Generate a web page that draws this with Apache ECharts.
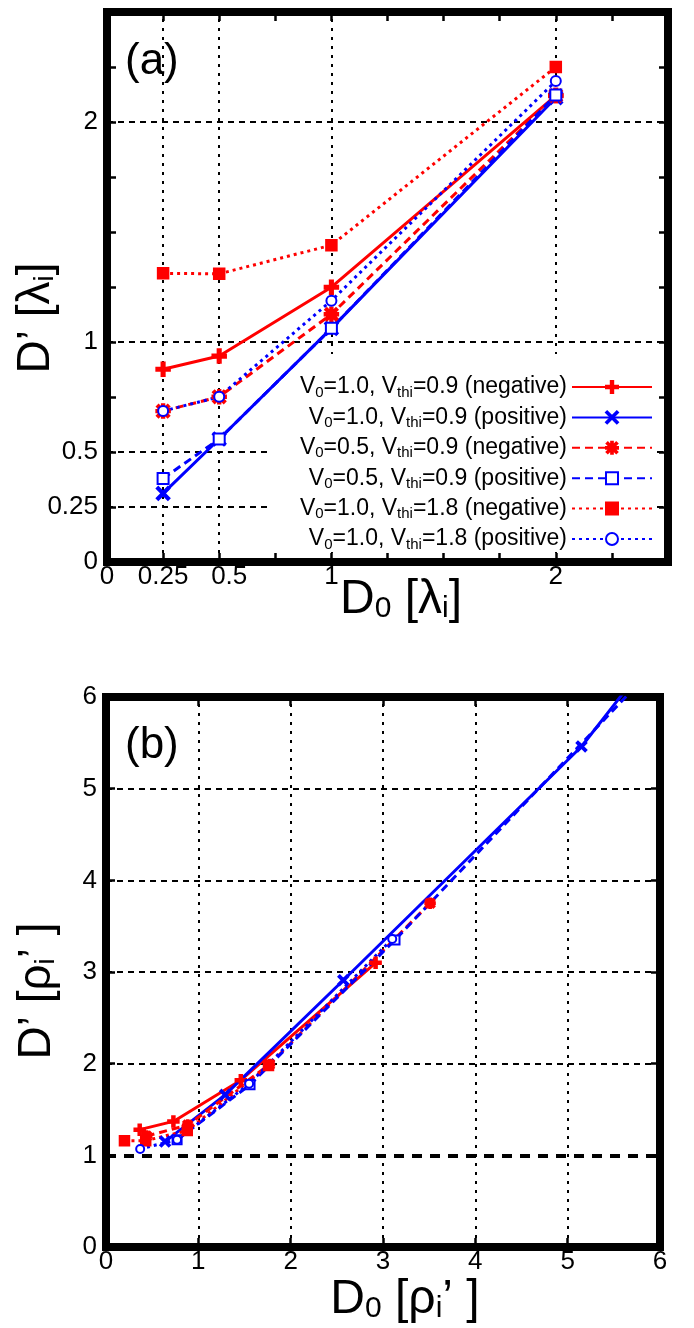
<!DOCTYPE html>
<html><head><meta charset="utf-8">
<script src="https://cdn.jsdelivr.net/npm/echarts@6/dist/echarts.min.js"></script>
<style>html,body{margin:0;padding:0;background:#fff}#c{width:694px;height:1328px}</style>
</head><body><div id="c"></div>
<script>
const FONT = '"Liberation Sans", Arial, sans-serif';

// ---------- Panel (a) data ----------
const aXTickLabels = [0, 0.25, 0.5, 1, 2];
const aYTickLabels = [0, 0.25, 0.5, 1, 2];
const aGridX = [0.25, 0.5, 1, 2];
const aGridY = [0.25, 0.5, 1, 2];
const aD0 = [0.25, 0.5, 1, 2];
const aNeg09 = [0.876, 0.936, 1.249, 2.12];
const aPos09 = [0.312, 0.559, 1.062, 2.11];
const aNeg05 = [0.686, 0.751, 1.126, 2.12];
const aPos05 = [0.38, 0.559, 1.062, 2.123];
const aNeg18 = [1.312, 1.31, 1.44, 2.25];
const aPos18 = [0.686, 0.751, 1.188, 2.186];

// ---------- Panel (b) data ----------
const bTickLabels = [0, 1, 2, 3, 4, 5, 6];
const bGridX = [1, 2, 3, 4, 5];
const bGridY = [2, 3, 4, 5];
const bRefLine = 1;
const bNeg09 = [[0.365, 1.28], [0.73, 1.37], [1.46, 1.82], [2.92, 3.10]];
const bPos09 = [[0.64, 1.15], [1.29, 1.66], [2.57, 2.91], [5.15, 5.46], [10.3, 12.1]];
const bNeg05 = [[0.44, 1.21], [0.885, 1.33], [1.77, 1.99], [3.51, 3.75]];
const bPos05 = [[0.77, 1.17], [1.56, 1.77], [3.13, 3.35], [6.26, 6.67]];
const bNeg18 = [[0.20, 1.16], [0.43, 1.16], [0.88, 1.27], [1.76, 1.98]];
const bPos18 = [[0.37, 1.07], [0.77, 1.17], [1.55, 1.78], [3.10, 3.36]];

const seriesNames = [
  'V0=1.0, Vthi=0.9 (negative)',
  'V0=1.0, Vthi=0.9 (positive)',
  'V0=0.5, Vthi=0.9 (negative)',
  'V0=0.5, Vthi=0.9 (positive)',
  'V0=1.0, Vthi=1.8 (negative)',
  'V0=1.0, Vthi=1.8 (positive)'
];
const aValues = [aNeg09, aPos09, aNeg05, aPos05, aNeg18, aPos18];
const bValues = [bNeg09, bPos09, bNeg05, bPos05, bNeg18, bPos18];

// ---------- styles ----------
const PLUS = 'path://M4,0 H6 V4 H10 V6 H6 V10 H4 V6 H0 V4 H4 Z';
const XMARK = 'path://M1,0 L5,4 L9,0 L10,1 L6,5 L10,9 L9,10 L5,6 L1,10 L0,9 L4,5 L0,1 Z';
const STAR = 'path://M4.3,0 H5.7 V10 H4.3 Z M0,4.3 H10 V5.7 H0 Z M0.5,1.5 L1.5,0.5 L9.5,8.5 L8.5,9.5 Z M8.5,0.5 L9.5,1.5 L1.5,9.5 L0.5,8.5 Z';
const RED = '#ff0000', BLUE = '#0000ff';
const DASH = [8, 5], DOT = [3, 4];
const styles = [
  {color: RED, type: 'solid', symbol: PLUS, size: 13, bsize: 10},
  {color: BLUE, type: 'solid', symbol: XMARK, size: 12, bsize: 9},
  {color: RED, type: DASH, symbol: STAR, size: 13, bsize: 9},
  {color: BLUE, type: DASH, symbol: 'emptyRect', size: 11, bsize: 9},
  {color: RED, type: DOT, symbol: 'rect', size: 10, bsize: 9},
  {color: BLUE, type: DOT, symbol: 'emptyCircle', size: 10, bsize: 8}
];
const VDOT = [3, 6], HDASH = [6, 5];

function tick() { return {show: true, inside: true, length: 9, lineStyle: {color: '#000', width: 2.5}}; }
function noLine() { return {show: false, onZero: false}; }
function labels(values, margin, shift) {
  return {
    show: true, customValues: values, margin: margin,
    fontFamily: FONT, fontSize: 26, color: '#000',
    formatter: v => (shift && shift[v] ? '{p|' + v + '}' : String(v)),
    rich: {p: {fontFamily: FONT, fontSize: 26, color: '#000', padding: [0, 0, 0, 20]}}
  };
}
function gridLines(xs, ys) {
  return {
    silent: true, z: 1, symbol: ['none', 'none'], label: {show: false}, animation: false,
    data: xs.map(v => ({xAxis: v, lineStyle: {color: '#000', width: 2, type: VDOT}}))
      .concat(ys.map(v => ({yAxis: v, lineStyle: {color: '#000', width: 2, type: HDASH}})))
  };
}
function axis(grid, max, interval, position, label) {
  return {
    type: 'value', gridIndex: grid, min: 0, max: max, interval: interval, position: position,
    axisLine: noLine(), splitLine: {show: false}, axisTick: tick(),
    axisLabel: label || {show: false}
  };
}

const option = {
  animation: false,
  backgroundColor: '#fff',
  grid: [
    {left: 107, top: 12, width: 561, height: 550, show: true, borderColor: '#000', borderWidth: 8, backgroundColor: 'transparent'},
    {left: 106, top: 697, width: 554, height: 550, show: true, borderColor: '#000', borderWidth: 8, backgroundColor: 'transparent'}
  ],
  xAxis: [
    axis(0, 2.5, 0.25, 'bottom', labels(aXTickLabels, 2, {0.5: true})),
    axis(0, 2.5, 0.25, 'top'),
    axis(1, 6, 1, 'bottom', labels(bTickLabels, 2)),
    axis(1, 6, 1, 'top')
  ],
  yAxis: [
    axis(0, 2.5, 0.25, 'left', labels(aYTickLabels, 9)),
    axis(0, 2.5, 0.25, 'right'),
    axis(1, 6, 1, 'left', labels(bTickLabels, 9)),
    axis(1, 6, 1, 'right')
  ],
  legend: {
    data: seriesNames,
    orient: 'vertical', align: 'right',
    right: 41, top: 374,
    itemWidth: 80, itemHeight: 15, itemGap: 4.4,
    padding: 0,
    formatter: name => name.replace('V0', 'V{s|0}').replace('Vthi', 'V{s|thi}'),
    textStyle: {
      fontFamily: FONT, fontSize: 23, color: '#000', lineHeight: 26,
      rich: {s: {fontFamily: FONT, fontSize: 15, lineHeight: 25, verticalAlign: 'bottom', color: '#000'}}
    }
  },
  graphic: [
    {type: 'rect', z: 2, silent: true, shape: {x: 267, y: 354, width: 389, height: 198}, style: {fill: '#fff'}},
    {type: 'text', z: 5, x: 125, y: 62, style: {text: '(a)', font: '44px ' + FONT, fill: '#000', align: 'left', verticalAlign: 'middle'}},
    {type: 'text', z: 5, x: 125, y: 746, style: {text: '(b)', font: '44px ' + FONT, fill: '#000', align: 'left', verticalAlign: 'middle'}},
    {type: 'text', z: 5, x: 401, y: 600, style: {text: 'D{s|0} [λ{s|i}]', font: '48px ' + FONT, fill: '#000', align: 'center', verticalAlign: 'middle',
      rich: {s: {font: '30px ' + FONT, fill: '#000', verticalAlign: 'bottom', lineHeight: 46}}}},
    {type: 'text', z: 5, x: 36, y: 318, rotation: Math.PI / 2, style: {text: 'D’ [λ{s|i}]', font: '46px ' + FONT, fill: '#000', align: 'center', verticalAlign: 'middle',
      rich: {s: {font: '28px ' + FONT, fill: '#000', verticalAlign: 'bottom', lineHeight: 44}}}},
    {type: 'text', z: 5, x: 405, y: 1300, style: {text: 'D{s|0} [ρ{s|i}’ ]', font: '48px ' + FONT, fill: '#000', align: 'center', verticalAlign: 'middle',
      rich: {s: {font: '30px ' + FONT, fill: '#000', verticalAlign: 'bottom', lineHeight: 46}}}},
    {type: 'text', z: 5, x: 37, y: 991, rotation: Math.PI / 2, style: {text: 'D’ [ρ{s|i}’ ]', font: '46px ' + FONT, fill: '#000', align: 'center', verticalAlign: 'middle',
      rich: {s: {font: '28px ' + FONT, fill: '#000', verticalAlign: 'bottom', lineHeight: 44}}}}
  ],
  series: []
};

// grid lines (only at selected values)
option.series.push({name: 'gridA', type: 'line', xAxisIndex: 0, yAxisIndex: 0, data: [], z: 1, silent: true,
  markLine: gridLines(aGridX, aGridY)});
option.series.push({name: 'gridB', type: 'line', xAxisIndex: 2, yAxisIndex: 2, data: [], z: 1, silent: true,
  markLine: gridLines(bGridX, bGridY)});
// reference line y=1 for panel (b)
option.series.push({
  name: 'refB', type: 'line', xAxisIndex: 2, yAxisIndex: 2, data: [], z: 2, silent: true,
  markLine: {
    silent: true, z: 2, symbol: ['none', 'none'], label: {show: false}, animation: false,
    data: [{yAxis: bRefLine, lineStyle: {color: '#000', width: 4, type: [10, 8]}}]
  }
});

seriesNames.forEach((name, i) => {
  const s = styles[i];
  const common = {
    type: 'line', name: name, symbol: s.symbol, showAllSymbol: true,
    lineStyle: {color: s.color, width: 3, type: s.type},
    itemStyle: {color: s.color, borderColor: s.color, borderWidth: 2.5},
    clip: true, z: 3
  };
  option.series.push(Object.assign({}, common, {
    xAxisIndex: 0, yAxisIndex: 0, symbolSize: s.size,
    data: aD0.map((x, j) => [x, aValues[i][j]])
  }));
  option.series.push(Object.assign({}, common, {
    xAxisIndex: 2, yAxisIndex: 2, symbolSize: s.bsize,
    data: bValues[i]
  }));
});

const chart = echarts.init(document.getElementById('c'), null, {renderer: 'canvas'});
chart.setOption(option);
</script>
</body></html>
